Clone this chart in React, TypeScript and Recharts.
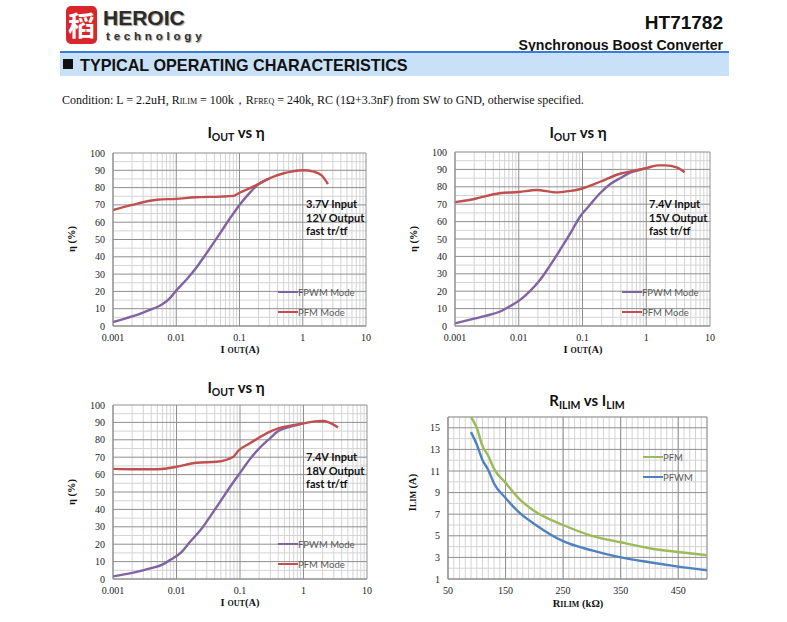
import React from 'react';
import { LineChart, Line, XAxis, YAxis, CartesianGrid, Legend } from 'recharts';

// ---------- data ----------
const c1FpwmX = [0.001, 0.002, 0.003, 0.004, 0.005, 0.006, 0.007, 0.008, 0.01, 0.015, 0.02, 0.03, 0.05, 0.07, 0.1, 0.15, 0.2, 0.3];
const c1FpwmY = [2.3, 5.6, 7.8, 9.6, 11, 12.6, 14.3, 16.3, 20.5, 27.5, 33, 42, 54, 62, 70, 77.5, 82, 85.2];
const c1PfmX = [0.001, 0.002, 0.005, 0.01, 0.02, 0.05, 0.08, 0.1, 0.2, 0.3, 0.5, 0.7, 1, 1.5, 2, 2.5];
const c1PfmY = [67, 70, 73, 73.5, 74.4, 74.8, 75.2, 77, 82, 85.4, 88.3, 89.4, 90, 89.2, 87, 82];

const c2FpwmX = [0.001, 0.002, 0.003, 0.005, 0.007, 0.0105, 0.015, 0.0215, 0.03, 0.0444, 0.065, 0.0913, 0.13, 0.188, 0.27, 0.387, 0.55, 0.75, 1];
const c2FpwmY = [1.5, 4.2, 5.8, 8.2, 11, 15, 20, 26.4, 34, 43.7, 53.5, 62.8, 69.5, 76.3, 81.5, 84.9, 88, 89.5, 90.7];
const c2PfmX = [0.001, 0.002, 0.005, 0.01, 0.019, 0.039, 0.06, 0.09, 0.188, 0.387, 0.6, 1, 1.5, 2, 3, 4];
const c2PfmY = [71.2, 73, 76.3, 77, 78.2, 76.8, 77.5, 78.6, 82.9, 87.5, 89, 90.7, 92.3, 92.3, 91.1, 88.4];

const c3FpwmX = [0.001, 0.002, 0.004, 0.006, 0.008, 0.012, 0.016, 0.025, 0.034, 0.05, 0.07, 0.1, 0.14, 0.2, 0.3, 0.4, 0.5, 0.7, 1];
const c3FpwmY = [1.5, 3.5, 6.2, 8.3, 11, 15.5, 21, 29, 36, 45, 53, 61, 68.4, 75, 81, 85, 86.6, 88, 89.4];
const c3PfmX = [0.001, 0.002, 0.005, 0.007, 0.01, 0.0208, 0.0429, 0.0785, 0.0941, 0.1437, 0.296, 0.4, 0.6, 1, 1.5, 2, 2.5, 3.5];
const c3PfmY = [63.3, 63.1, 63.1, 63.5, 64.5, 66.8, 67.4, 70.3, 73.7, 78, 84.7, 86.6, 88, 89.4, 90.6, 90.8, 90, 87.1];

const c4R = [90, 100, 110, 120, 130, 150, 175, 200, 250, 300, 350, 400, 450, 500];
const c4Pfm = [16, 15, 13.3, 12.4, 11.2, 9.9, 8.35, 7.3, 6.0, 5.0, 4.4, 3.85, 3.5, 3.2];
const c4Pfwm = [14.6, 13.45, 12.0, 11.1, 9.85, 8.5, 7.1, 6.1, 4.5, 3.65, 3.0, 2.55, 2.15, 1.8];

const logTicks = [0.001, 0.01, 0.1, 1, 10];
const etaTicks = [0, 10, 20, 30, 40, 50, 60, 70, 80, 90, 100];
const etaMinor = [5, 15, 25, 35, 45, 55, 65, 75, 85, 95];
const logMinor = [0.001, 0.01, 0.1, 1].flatMap((d) => [2, 3, 4, 5, 6, 7, 8, 9].map((m) => +(d * m).toPrecision(3)));
const rTicks = [50, 150, 250, 350, 450];
const rMinor = Array.from({ length: 46 }, (_, i) => 50 + i * 10);
const iTicks = [1, 3, 5, 7, 9, 11, 13, 15];
const iMinor = [2, 4, 6, 8, 10, 12, 14, 16];

const effLabels = ['FPWM Mode', 'PFM Mode'];
const limLabels = ['PFM', 'PFWM'];

const PURPLE = '#8064a2';
const RED = '#c0504d';
const GREEN = '#9bbb59';
const BLUE = '#4f81bd';

const zip = (xs: number[], ys: number[]) => xs.map((x, i) => ({ x, y: ys[i] }));

const tickStyle = { fontFamily: 'Liberation Serif', fontSize: 10, fill: '#222' };

type Rect = { x0: number; y0: number; x1: number; y1: number };

const LegendBox = ({ payload }: any) => (
  <div style={{ fontFamily: 'Lato, "Open Sans"', fontSize: 9.5, color: '#595959', textAlign: 'left' }}>
    {(payload || []).map((p: any, i: number) => (
      <div key={i} style={{ display: 'flex', alignItems: 'center', height: 20 }}>
        <span style={{ display: 'inline-block', width: 20, height: 2.5, background: p.color }} />
        <span>{p.value}</span>
      </div>
    ))}
  </div>
);

function Plot(props: {
  rect: Rect;
  series: { data: { x: number; y: number }[]; color: string; name: string }[];
  xDomain: [number, number];
  yDomain: [number, number];
  xTicks: number[];
  yTicks: number[];
  xMinor: number[];
  yMinor: number[];
  log?: boolean;
  legendPos: { x: number; y: number };
}) {
  const { rect } = props;
  const ML = 50, MT = 10, MR = 10, XH = 24;
  const W = rect.x1 - rect.x0 + ML + MR;
  const H = rect.y1 - rect.y0 + MT + XH;
  return (
    <div style={{ position: 'absolute', left: rect.x0 - ML, top: rect.y0 - MT, width: W, height: H }}>
      <LineChart width={W} height={H} margin={{ top: MT, right: MR, left: 0, bottom: 0 }}>
        <CartesianGrid stroke="#d4d4d4" strokeWidth={1} verticalValues={props.xMinor} horizontalValues={props.yMinor} />
        <CartesianGrid stroke="#8f8f8f" strokeWidth={1} />
        <XAxis
          type="number"
          dataKey="x"
          scale={props.log ? 'log' : 'linear'}
          domain={props.xDomain}
          ticks={props.xTicks}
          allowDataOverflow
          height={XH}
          tickLine={false}
          axisLine={{ stroke: '#8f8f8f' }}
          tick={tickStyle}
          tickFormatter={(v: number) => String(v)}
          interval={0}
        />
        <YAxis
          type="number"
          dataKey="y"
          domain={props.yDomain}
          ticks={props.yTicks}
          allowDataOverflow
          width={ML}
          tickLine={false}
          axisLine={{ stroke: '#8f8f8f' }}
          tick={tickStyle}
          interval={0}
        />
        {props.series.map((s) => (
          <Line
            key={s.name}
            data={s.data}
            dataKey="y"
            name={s.name}
            type="monotone"
            stroke={s.color}
            strokeWidth={2.4}
            dot={false}
            isAnimationActive={false}
          />
        ))}
        <Legend
          layout="horizontal"
          verticalAlign="middle"
          align="center"
          content={<LegendBox />}
          wrapperStyle={{ position: 'absolute', left: props.legendPos.x - (rect.x0 - ML), top: props.legendPos.y - (rect.y0 - MT) - 10, width: 'auto' }}
        />
      </LineChart>
    </div>
  );
}

const abs = (x: number, y: number, extra: React.CSSProperties = {}): React.CSSProperties => ({
  position: 'absolute',
  left: x,
  top: y,
  whiteSpace: 'nowrap',
  ...extra,
});

const Title = ({ cx, cy, children }: any) => (
  <div
    style={abs(cx - 100, cy - 10, {
      width: 200,
      textAlign: 'center',
      fontFamily: 'Lato, "Open Sans"',
      fontWeight: 700,
      fontSize: 15,
      color: '#111',
      lineHeight: '20px',
    })}
  >
    {children}
  </div>
);

const Sub = ({ children }: any) => <span style={{ fontSize: '0.7em', verticalAlign: '-0.25em' }}>{children}</span>;

const XLabel = ({ cx, cy, main, sub, tail }: any) => (
  <div
    style={abs(cx - 80, cy - 8, {
      width: 160,
      textAlign: 'center',
      fontFamily: 'Liberation Serif',
      fontWeight: 700,
      fontSize: 10.5,
      color: '#111',
      lineHeight: '16px',
    })}
  >
    {main}
    <span style={{ fontSize: 8, marginLeft: main === 'I' ? 3 : 0 }}>{sub}</span>
    {tail}
  </div>
);

const YLabel = ({ cx, cy, children }: any) => (
  <div
    style={abs(cx - 50, cy - 8, {
      width: 100,
      textAlign: 'center',
      transform: 'rotate(-90deg)',
      fontFamily: 'Liberation Serif',
      fontWeight: 700,
      fontSize: 10.5,
      color: '#111',
      lineHeight: '16px',
    })}
  >
    {children}
  </div>
);

const Note = ({ x, y, lines }: any) => (
  <div
    style={abs(x, y, {
      fontFamily: 'Lato, "Open Sans"',
      fontWeight: 700,
      fontSize: 11,
      color: '#111',
      lineHeight: '13.5px',
    })}
  >
    {lines.map((l: string, i: number) => (
      <div key={i}>{l}</div>
    ))}
  </div>
);

function EffChart({ rect, fpwm, pfm, note, noteX, noteY, legend, titlePos, xlabPos, ylabPos }: any) {
  return (
    <>
      <Title cx={titlePos[0]} cy={titlePos[1]}>
        I<Sub>OUT</Sub> vs η
      </Title>
      <YLabel cx={ylabPos[0]} cy={ylabPos[1]}>η (%)</YLabel>
      <XLabel cx={xlabPos[0]} cy={xlabPos[1]} main="I" sub="OUT" tail="(A)" />
      <Plot
        rect={rect}
        series={[
          { data: fpwm, color: PURPLE, name: effLabels[0] },
          { data: pfm, color: RED, name: effLabels[1] },
        ]}
        xDomain={[0.001, 10]}
        yDomain={[0, 100]}
        xTicks={logTicks}
        yTicks={etaTicks}
        xMinor={logMinor}
        yMinor={etaMinor}
        log
        legendPos={legend}
      />
      <Note x={noteX} y={noteY} lines={note} />
    </>
  );
}

export default function App() {
  return (
    <div style={{ position: 'absolute', left: 0, top: 0, width: 787, height: 622, background: '#fff', overflow: 'hidden' }}>
      {/* header */}
      <div
        style={abs(66, 6, {
          width: 31,
          height: 38,
          background: '#d8262b',
          borderRadius: 5,
          color: '#fff',
          fontFamily: '"Noto Sans CJK SC"',
          fontSize: 27,
          lineHeight: '38px',
          textAlign: 'center',
          fontWeight: 700,
        })}
      >
        稻
      </div>
      <div style={abs(103, 6, { fontFamily: 'Liberation Sans', fontWeight: 700, fontSize: 21, color: '#2b2b2b', lineHeight: '24px', textShadow: '1px 1px 1px #999' })}>
        HEROIC
      </div>
      <div style={abs(106, 29, { fontFamily: 'Liberation Sans', fontWeight: 700, fontSize: 11.5, letterSpacing: 3.8, color: '#333', lineHeight: '14px', textShadow: '1px 1px 1px #999' })}>
        technology
      </div>
      <div style={abs(523, 12, { width: 200, textAlign: 'right', fontFamily: 'Liberation Sans', fontWeight: 700, fontSize: 19, color: '#111', lineHeight: '22px' })}>
        HT71782
      </div>
      <div style={abs(473, 37, { width: 250, textAlign: 'right', fontFamily: 'Liberation Sans', fontWeight: 700, fontSize: 14.1, color: '#111', lineHeight: '16px' })}>
        Synchronous Boost Converter
      </div>
      <div style={abs(60, 51, { width: 669, height: 1.5, background: '#3a7bd5' })} />
      <div style={abs(60, 53, { width: 669, height: 23, background: '#c9e1f8' })} />
      <div style={abs(63, 59, { width: 10, height: 10, background: '#111' })} />
      <div style={abs(80, 54, { fontFamily: 'Liberation Sans', fontWeight: 700, fontSize: 16.2, color: '#111', lineHeight: '22px' })}>
        TYPICAL OPERATING CHARACTERISTICS
      </div>
      <div style={abs(62, 92, { fontFamily: 'Liberation Serif', fontSize: 12, color: '#111', lineHeight: '16px' })}>
        Condition: L = 2.2uH, R<span style={{ fontSize: 8 }}>ILIM</span> = 100k，R<span style={{ fontSize: 8 }}>FREQ</span> = 240k, RC (1Ω+3.3nF) from SW to GND, otherwise specified.
      </div>

      {/* chart 1 */}
      <EffChart
        rect={{ x0: 113, y0: 153, x1: 366, y1: 326 }}
        fpwm={zip(c1FpwmX, c1FpwmY)}
        pfm={zip(c1PfmX, c1PfmY)}
        note={['3.7V Input', '12V Output', 'fast tr/tf']}
        noteX={306}
        noteY={197}
        legend={{ x: 278, y: 292 }}
        titlePos={[236, 132]}
        xlabPos={[240, 350]}
        ylabPos={[72, 239]}
      />
      {/* chart 2 */}
      <EffChart
        rect={{ x0: 455, y0: 152, x1: 710, y1: 326 }}
        fpwm={zip(c2FpwmX, c2FpwmY)}
        pfm={zip(c2PfmX, c2PfmY)}
        note={['7.4V Input', '15V Output', 'fast tr/tf']}
        noteX={649}
        noteY={197}
        legend={{ x: 622, y: 292 }}
        titlePos={[578, 132]}
        xlabPos={[583, 350]}
        ylabPos={[414, 239]}
      />
      {/* chart 3 */}
      <EffChart
        rect={{ x0: 113, y0: 405, x1: 367, y1: 579 }}
        fpwm={zip(c3FpwmX, c3FpwmY)}
        pfm={zip(c3PfmX, c3PfmY)}
        note={['7.4V Input', '18V Output', 'fast tr/tf']}
        noteX={306}
        noteY={450}
        legend={{ x: 278, y: 544 }}
        titlePos={[236, 387]}
        xlabPos={[240, 603]}
        ylabPos={[72, 492]}
      />
      {/* chart 4 */}
      <Title cx={587} cy={400}>
        R<Sub>ILIM</Sub> vs I<Sub>LIM</Sub>
      </Title>
      <YLabel cx={413} cy={492}>
        I<span style={{ fontSize: 8 }}>LIM</span> (A)
      </YLabel>
      <XLabel cx={578} cy={604} main="R" sub="ILIM" tail=" (kΩ)" />
      <Plot
        rect={{ x0: 448, y0: 417, x1: 707, y1: 579 }}
        series={[
          { data: zip(c4R, c4Pfm), color: GREEN, name: limLabels[0] },
          { data: zip(c4R, c4Pfwm), color: BLUE, name: limLabels[1] },
        ]}
        xDomain={[50, 500]}
        yDomain={[1, 16]}
        xTicks={rTicks}
        yTicks={iTicks}
        xMinor={rMinor}
        yMinor={iMinor}
        legendPos={{ x: 643, y: 457 }}
      />
    </div>
  );
}
